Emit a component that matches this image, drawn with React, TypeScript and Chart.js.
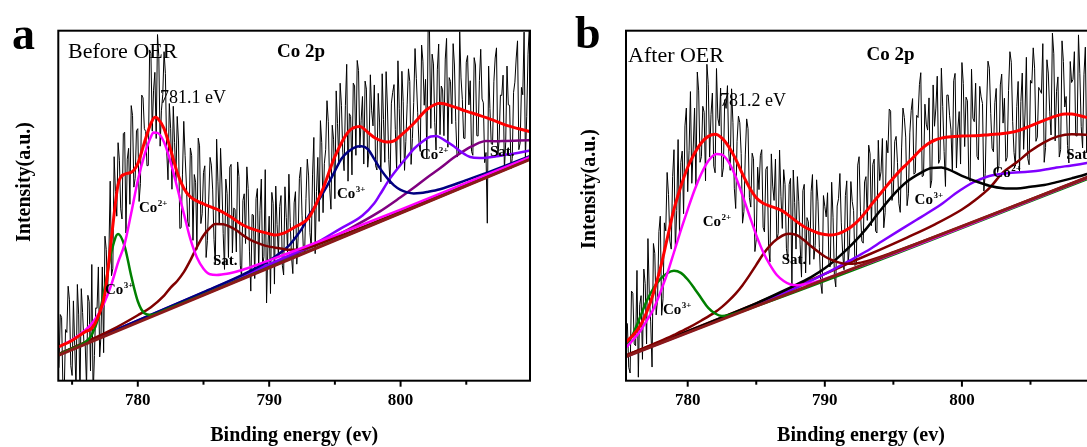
import React, { useEffect, useRef } from 'react';
import { Chart, registerables } from 'chart.js';

Chart.register(...registerables);

const SERIF = '"Liberation Serif", "Times New Roman", serif';

// ---------------- shared axis ----------------
const tickValues = [775, 780, 785, 790, 795, 800, 805];
const majorTicks = [780, 790, 800];
const rawStep = 0.2;

// ---------------- Panel a : Before OER ----------------
// raw spectrum, two interleaved sample sets (start, start + 0.1 eV)
const rawAStart = 774.0;
const rawA = [
  3.7, 18.1, -3.6, 13.8, 23.1, 1.5, 10, 27.5, -5, 19.5,
  10, 24.4, 2.8, -4.5, 20.8, 32.5, 13, 8, 37.5, 36,
  30, 64, 47, 63, 46.2, 71, 63.3, 50.4, 75.8, 57.8,
  72, 56.3, 80.8, 71.2, 61.5, 93.5, 83, 69.2, 92.6, 77.3,
  94, 65.6, 79.2, 54.7, 68, 75.5, 43.5, 58.8, 64.4, 45.4,
  66.5, 40.1, 56.7, 69.3, 44.9, 59.5, 35.2, 51.9, 61.6, 40.3,
  69, 44.6, 56.2, 31.8, 53.4, 61, 36.5, 49, 62.5, 33,
  51.5, 39.2, 54.9, 25.6, 47.3, 52, 31.8, 57.6, 35.4, 22.2,
  47, 53.8, 27.6, 44.6, 49.8, 33, 55.4, 36.8, 45.2, 30.6,
  54, 40.5, 61, 37.5, 52, 58.5, 38, 69.5, 54, 45.5,
  68, 62, 80, 55, 73, 52, 73.5, 85, 65.3, 78.7,
  57, 75.5, 85, 64.4, 88.6, 74.4, 61.9, 83.3, 65.7, 77.1,
  84.5, 60.2, 73.9, 87.7, 62.4, 78.2, 56.2, 82.4, 71.8, 91.4,
  62, 79.7, 68.4, 89.1, 61.8, 79.5, 86.3, 68.1, 95.9, 78.7,
  63.5, 99.9, 93.3, 73.7, 89, 70.3, 83.1, 91.9, 66.7, 85.5,
  96.3, 74, 64.8, 86.5, 69.3, 91, 78.8, 65.5, 92.3, 70,
  85.8, 80.5, 62.3, 45, 77.8, 67.5, 92.2, 63.9, 81.6, 87.3,
  68, 78.8, 60.6, 82.4, 92.2, 66, 83.8, 99.6, 75.4, 101.2,
];
const rawA2 = [
  18.9, -1.7, 14.6, 27, 4.3, 22.8, -2.7, 18.8, 26.3, 10.8,
  -1.8, 22.6, 33.2, 7.2, 20.7, 6.8, 32.5, 41.3, 25.3, 57,
  32, 54, 68, 49.1, 70.6, 42.2, 66.4, 78.6, 55.3, 71.4,
  51.2, 81.6, 72, 61.4, 94.5, 71.3, 88.1, 98.9, 67, 81.7,
  87.8, 57.4, 72, 78.4, 56.8, 68.5, 43.7, 74.1, 55.9, 44,
  64.3, 58.9, 37.5, 67.1, 47.7, 61.4, 40.1, 63.8, 54.5, 33.2,
  56.8, 66.4, 42, 57.6, 35.2, 61.8, 49.3, 36.8, 58.3, 29.8,
  53.4, 61.1, 36.8, 47.5, 29.2, 54.9, 48.7, 32.5, 60.3, 38.1,
  24.9, 50.7, 55.6, 35.7, 52.9, 30.2, 46.6, 59, 35.4, 50.8,
  33.3, 57.8, 47.3, 36.8, 63.3, 42.3, 58.8, 36.3, 63.8, 74.3,
  48, 66, 74, 49, 69, 82.8, 62.3, 78.7, 60, 90.4,
  76.3, 58.8, 84.2, 91.5, 66.5, 81.2, 85.6, 61, 87.4, 72.8,
  61.4, 82.1, 56.8, 74.6, 88.3, 63.2, 79.3, 84.6, 60.1, 77.7,
  88.4, 60.1, 78.8, 85.5, 69.2, 94.9, 76.7, 65.5, 91.3, 86.1,
  101.7, 72.1, 90.5, 65.9, 96.2, 84.2, 70, 97.8, 86.6, 73.4,
  90.2, 63.9, 99.7, 80.4, 69.2, 92.9, 85.7, 64.4, 90.2, 69.9,
  94.7, 79.4, 65.2, 89.9, 67.7, 85.4, 95.1, 68.8, 81.5, 60.2,
  89.9, 78.7, 63.5, 85.3, 97.1, 67.9, 81.7, 63.5, 93.3, 85.1,
];

const redAE = [774, 775, 776, 776.5, 777, 777.5, 778, 778.5, 779, 779.5, 780, 780.5, 781, 781.3, 781.5, 782, 782.5, 783, 783.5, 784, 785, 786, 787, 788, 789, 790, 790.5, 791, 792, 793, 794, 795, 796, 796.9, 797.5, 798, 799, 799.5, 800, 801, 802, 803, 804, 805, 806, 807, 808, 809, 810];
const redAY = [9.7, 11.5, 14, 15, 18.5, 25, 41, 56, 59, 59.5, 62, 68, 73.5, 75.3, 75, 72, 66, 59.5, 55, 52.5, 50.5, 49, 47, 44.5, 43, 42, 41.6, 42, 44, 46.5, 54, 64, 71, 72.6, 71, 69.5, 68.2, 68.5, 70, 73.5, 77.5, 79.3, 78.3, 77, 75.8, 74.5, 73, 72, 71];

const greenAE = [774, 775, 776, 776.5, 777, 777.5, 778, 778.5, 779, 779.5, 780, 780.5, 781, 782, 790, 810];
const greenAY = [7.5, 9.2, 11.0, 13.1, 18.0, 26.8, 36.9, 41.9, 38.4, 29.9, 22.7, 19.3, 18.8, 20.1, 32.4, 63.5];

const magentaAE = [774, 775, 776, 776.5, 777, 777.5, 778, 778.5, 779, 779.5, 780, 780.5, 781, 781.2, 781.5, 782, 782.5, 783, 783.5, 784, 784.5, 785, 785.5, 786, 786.5, 787, 788, 789, 790, 792, 795, 800, 805, 810];
const magentaAY = [9.7, 11.7, 14.4, 16.3, 19.0, 22.7, 27.6, 33.8, 39.1, 47.9, 57.2, 64.4, 69.7, 70.9, 70.8, 68.1, 62.4, 55.2, 47.8, 40.5, 35.2, 32.0, 30.4, 30.2, 30.4, 30.7, 31.7, 33.0, 34.4, 37.2, 41.5, 48.9, 56.5, 64.1];

const satAE = [774, 778, 780, 781, 782, 782.5, 783, 783.5, 784, 784.5, 785, 785.5, 785.9, 786.5, 787, 787.5, 788, 788.5, 789, 789.5, 790, 790.5, 791, 791.5, 792, 793, 795, 800, 810];
const satAY = [7.6, 14.5, 18.7, 21.0, 24.3, 26.6, 28.5, 31.0, 34.4, 38.2, 41.5, 43.7, 44.8, 44.7, 44.0, 43.0, 41.6, 40.4, 39.5, 38.8, 38.3, 38.0, 37.7, 37.4, 37.4, 38.1, 40.8, 48.3, 63.7];

const navyAE = [774, 785, 788, 790, 790.8, 791.5, 792, 792.5, 793, 793.5, 794, 794.5, 795, 795.5, 796, 796.7, 797, 797.5, 798, 798.5, 799, 799.5, 800, 800.5, 801, 801.5, 802, 803, 805, 807, 810];
const navyAY = [7.6, 25.3, 30.3, 34.3, 36.4, 38.6, 40.9, 43.5, 47.1, 49.9, 53.0, 56.3, 59.9, 63.4, 65.4, 66.9, 67.0, 66.2, 63.3, 60.3, 57.8, 55.8, 54.5, 53.8, 53.5, 53.6, 53.9, 54.7, 57.3, 60.0, 64.4];

const violetAE = [774, 785, 790, 792, 793.3, 795.4, 797.1, 798, 798.4, 799.2, 800, 800.4, 801, 801.7, 802.3, 802.7, 803.3, 804, 804.6, 805.3, 806, 806.5, 807.3, 808.1, 809, 810];
const violetAY = [7.6, 25.2, 33.3, 36.6, 38.8, 43.4, 47.2, 50.7, 53.0, 57.8, 61.7, 63.5, 66.2, 68.4, 69.8, 69.9, 68.8, 67.1, 65.4, 63.9, 63.6, 63.7, 64.1, 64.6, 65.1, 65.9];

const purpleAE = [774, 790, 794, 796, 798.4, 800, 801, 802, 803, 804, 805, 805.5, 806, 806.5, 807.3, 808, 809, 810];
const purpleAY = [7.6, 32.9, 39.5, 43.2, 48.3, 52.4, 55.1, 58.0, 60.7, 63.6, 66.1, 67.1, 68.0, 68.5, 68.4, 68.5, 68.6, 68.7];

const baseAE = [774, 810];
const baseAY = [7.3, 63.5];

// ---------------- Panel b : After OER ----------------
const rawBStart = 775.6;
const rawB = [
  16.4, 2.2, 25, 10, 1, 24.3, 31.9, 10.5, 24.7, 3.9,
  36.4, 23.2, 47, 23.4, 42.8, 53.2, 37.6, 66, 48.6, 42.2,
  65.6, 72.8, 54, 82.6, 66.2, 55.6, 82.8, 64, 76.7, 90.4,
  63.9, 82.2, 59.4, 75, 83.6, 60.8, 77.8, 64.8, 83.4, 55,
  68.4, 73.7, 45, 64.5, 72, 49.6, 63.4, 40.3, 54.6, 66,
  42.5, 61.2, 33.9, 55.6, 63.3, 42, 52.7, 60.3, 37.7, 56.1,
  26.5, 50.9, 58.3, 38.8, 54.3, 30.8, 45.4, 54, 34.7, 57.4,
  38.1, 24.9, 49.8, 53.7, 32.6, 46.7, 26.8, 52, 45.3, 31.7,
  57.1, 38.6, 51.2, 32.9, 61.6, 48.4, 39.3, 58.3, 67.3, 44.3,
  63.3, 42.2, 57.2, 69.2, 48.1, 65.1, 77, 53.9, 69.8, 50.7,
  66.5, 75.2, 50, 70.8, 80.6, 59.4, 75.2, 88, 58.6, 73.3,
  80.8, 57.3, 72.7, 87, 63.2, 78.4, 55.5, 81.6, 71.7, 85.7,
  60.8, 76.9, 90.9, 66.9, 80, 57, 75, 85, 63.1, 81.1,
  54.2, 78.2, 89.3, 66.4, 79.4, 59.5, 84.5, 73.6, 62.7, 82.9,
  91, 65.2, 78.3, 59.6, 87.9, 76.2, 63.5, 85.8, 95.1, 68.4,
  83.8, 82.1, 62.4, 91.7, 77, 99.3, 68.5, 86.8, 66, 91.2,
  81.2, 62.2, 85.2, 94, 69.9, 87.7, 66.5, 95.3, 78.1, 63.9,
  88.8, 80.6, 66.5,
];
const rawB2 = [
  3.8, 25.6, 10.5, 31.5, 21.7, 6.1, 27.7, 40.6, 16.8, 39.2,
  18.8, 42.6, 18.7, 45.1, 59.5, 39.9, 58.3, 37.3, 68.9, 62.4,
  47.7, 77.9, 65.8, 56.4, 77.9, 88.2, 62.4, 78.4, 57.1, 84.7,
  76.1, 61.3, 89.2, 72.8, 58.2, 80.3, 84.3, 60.1, 73.7, 49.2,
  75.6, 64.9, 48.3, 74.8, 52.3, 65, 36.9, 61, 64.3, 43.8,
  60.4, 38.1, 64.8, 51.5, 40.2, 65.9, 43.5, 56, 34.4, 57.8,
  60.2, 37.6, 51.1, 29.6, 56.1, 46.6, 33.2, 58.9, 38.6, 51.3,
  28, 52.9, 46.8, 32.7, 56.7, 29.8, 49.9, 59.2, 36.5, 52.9,
  33.4, 56.9, 48.6, 33.3, 64, 39.9, 56.8, 45.8, 64.8, 61.8,
  42.8, 68.7, 59.7, 43.7, 68.6, 77.6, 51.5, 68.4, 62.3, 48.1,
  77.9, 69.6, 53.4, 77.2, 59, 75.8, 84.6, 58.3, 79, 71.6,
  55.1, 84.5, 77.9, 62.1, 89.3, 65.5, 81.6, 75.7, 59.7, 87.8,
  71.9, 61.9, 84.9, 81, 58, 89, 74, 64.1, 84.1, 79.2,
  59.2, 91.3, 76.4, 65.4, 83.5, 61.5, 87.6, 80.7, 63.8, 94,
  74.1, 61.3, 85.5, 79.8, 66.1, 92.4, 61.7, 85, 89.3, 69.6,
  83, 96.3, 66.6, 87.9, 70.2, 93.4, 82.7, 63.9, 97.1, 78.2,
  67.2, 91.2, 86.1, 70, 98.8, 72.6, 87.4, 65.2, 92, 79.9,
  67.7, 93.6, 82.4,
];

const redBE = [775.5, 776, 776.5, 777, 777.5, 778, 778.5, 779, 779.5, 780, 780.5, 781, 781.5, 782, 782.5, 783, 783.5, 784, 784.5, 785, 785.5, 786, 786.5, 787, 787.5, 788, 788.5, 789, 789.5, 790, 790.5, 791, 791.5, 792, 792.5, 793, 793.5, 794, 794.5, 795, 795.5, 796, 796.5, 797, 797.5, 798, 798.5, 799, 800, 801, 802, 803, 804, 805, 806, 807, 807.5, 808, 808.5, 809, 810];
const redBY = [11, 13, 15.5, 19.5, 25, 32, 40.5, 49, 55.5, 61, 65, 68, 69.8, 70.4, 69.3, 66.8, 63.3, 59, 55.2, 52.3, 50.7, 49.9, 49.2, 48.3, 46.8, 45.3, 44, 43, 42.2, 41.8, 41.6, 42, 42.9, 44.2, 46, 48.3, 50.8, 53.2, 55.6, 57.9, 60.1, 62, 64, 66, 67.6, 68.7, 69.3, 69.6, 69.9, 70, 70.3, 70.6, 71.3, 72.8, 74.4, 75.8, 76.2, 76.2, 75.8, 75.3, 74.5];

const greenBE = [775.5, 776, 776.5, 777, 777.5, 778, 778.5, 779, 779.5, 780, 780.5, 781, 781.5, 782, 782.5, 783, 785, 810];
const greenBY = [9.9, 13.2, 17.9, 22.7, 26.4, 29.0, 30.7, 31.4, 30.8, 28.9, 26.3, 23.5, 20.8, 19.2, 18.5, 18.7, 21.3, 58.9];

const magentaBE = [775.5, 776, 776.5, 777, 777.5, 778, 778.5, 779, 779.5, 780, 780.5, 781, 781.5, 782.1, 782.5, 783, 783.5, 784, 784.5, 785, 785.5, 786, 786.5, 787, 787.5, 788, 789, 790, 810];
const magentaBY = [9.5, 11.6, 14.0, 17.1, 20.4, 25.2, 30.5, 36.7, 43, 48.9, 54.5, 59.2, 62.8, 64.8, 64.6, 62.4, 58.3, 52.9, 47.2, 41.6, 36.8, 33.1, 30.2, 28.5, 27.5, 27.3, 27.9, 29.1, 59.2];

const sat1BE = [775.5, 778, 779, 780, 781, 782, 782.5, 783, 783.5, 784, 784.5, 785, 785.5, 786, 786.5, 787.2, 787.5, 788, 788.5, 789, 789.5, 790, 790.5, 791, 791.5, 792, 793, 795, 810];
const sat1BY = [7.2, 11.3, 13.1, 15.0, 17.2, 19.6, 21.1, 22.9, 24.9, 27.3, 30.1, 33.1, 36.1, 38.6, 40.4, 41.9, 42.0, 41.5, 40.1, 38.4, 36.9, 35.5, 34.5, 33.8, 33.4, 33.4, 34.1, 36.7, 59.5];

const blackBE = [775.5, 780, 785, 787, 788, 789, 790, 791, 792, 793, 794, 795, 796, 797, 797.8, 798.5, 799, 800, 801, 802, 803, 804, 805, 806, 807, 808, 809, 810];
const blackBY = [7.1, 14.1, 22.1, 25.7, 27.6, 29.6, 32.1, 35.3, 39.0, 43.3, 48.4, 53.1, 56.9, 59.4, 60.8, 60.9, 60.4, 58.5, 57.0, 55.7, 55.0, 54.9, 55.4, 55.9, 56.8, 57.8, 58.9, 60.3];

const violetBE = [775.5, 785, 788, 790, 791.8, 793, 794.2, 795.5, 796.7, 797.5, 798.6, 799.5, 800.3, 801, 801.5, 802, 802.7, 803.3, 803.9, 804.6, 805.4, 806.2, 806.9, 808, 809.1, 810];
const violetBY = [6.9, 21.6, 26.7, 30.5, 34.3, 36.9, 39.9, 43.1, 46.0, 47.9, 50.7, 53.4, 55.5, 57.0, 57.8, 58.5, 59.0, 59.3, 59.5, 59.6, 59.9, 60.4, 60.9, 61.5, 62.2, 62.9];

const sat2BE = [775.5, 785, 790, 792, 794, 796, 798, 800, 801, 802, 803, 804, 805, 806, 807, 808, 809, 810];
const sat2BY = [7.2, 22.1, 30.5, 34.0, 37.4, 40.9, 44.6, 48.9, 51.7, 55.0, 59.5, 62.4, 65.6, 68.1, 69.8, 70.4, 70.3, 70.2];

const baseBE = [775.5, 810];
const baseBY = [6.9, 59.3];

// ---------------- annotation labels (data coordinates) ----------------
const labelsA = [
  { text: 'Co', sup: '2+', e: 780.09, v: 48.2 },
  { text: 'Co', sup: '3+', e: 777.5, v: 24.8 },
  { text: 'Sat.', sup: '', e: 785.72, v: 33.1 },
  { text: 'Co', sup: '3+', e: 795.16, v: 52.2 },
  { text: 'Co', sup: '2+', e: 801.47, v: 63.3 },
  { text: 'Sat.', sup: '', e: 806.8, v: 64.2 },
];
const labelsB = [
  { text: 'Co', sup: '2+', e: 781.1, v: 44.2 },
  { text: 'Sat.', sup: '', e: 786.86, v: 33.3 },
  { text: 'Co', sup: '3+', e: 778.2, v: 19.1 },
  { text: 'Co', sup: '3+', e: 796.55, v: 50.5 },
  { text: 'Co', sup: '2+', e: 802.23, v: 58.2 },
  { text: 'Sat.', sup: '', e: 807.6, v: 63.3 },
];

const pts = (xs: number[], ys: number[]) => xs.map((x, i) => ({ x, y: ys[i] }));
const rawPts = (start: number, ys: number[]) =>
  ys.map((y, i) => ({ x: Math.round((start + i * rawStep) * 100) / 100, y }));
const mergeRaw = (start: number, a: number[], b: number[]) =>
  [...rawPts(start, a), ...rawPts(start + rawStep / 2, b)].sort((p, q) => p.x - q.x);

function curve(xs: number[], ys: number[], color: string, width: number, order: number) {
  return {
    data: pts(xs, ys),
    borderColor: color,
    borderWidth: width,
    pointRadius: 0,
    fill: false,
    cubicInterpolationMode: 'monotone',
    order,
    clip: 0,
  };
}

function rawSet(data: { x: number; y: number }[]) {
  return {
    data,
    borderColor: '#000000',
    borderWidth: 1,
    pointRadius: 0,
    fill: false,
    tension: 0,
    order: 20,
    clip: 0,
  };
}

const panelA = {
  key: 'a',
  left: 0,
  width: 545,
  xMin: 773.95,
  xMax: 809.85,
  padding: { left: 58.3, top: 30.7, right: 15, bottom: 66.3 },
  letterX: 12,
  letterY: 49,
  yTitleX: 25,
  yTitleY: 182,
  stateText: 'Before OER',
  stateE: 774.69,
  stateV: 92.2,
  coreE: 792.42,
  coreV: 92.5,
  peakText: '781.1 eV',
  peakE: 781.69,
  peakV: 79.3,
  labels: labelsA,
  datasets: [
    rawSet(mergeRaw(rawAStart, rawA, rawA2)),
    curve(redAE, redAY, '#ff0000', 3, 0),
    curve(baseAE, baseAY, '#8b1a1a', 3, 1),
    curve(magentaAE, magentaAY, '#ff00ff', 2.5, 2),
    curve(greenAE, greenAY, '#008000', 2.5, 3),
    curve(satAE, satAY, '#800000', 2.5, 4),
    curve(navyAE, navyAY, '#000080', 2.5, 5),
    curve(violetAE, violetAY, '#8000ff', 2.5, 6),
    curve(purpleAE, purpleAY, '#800080', 2.5, 7),
  ],
};

const panelB = {
  key: 'b',
  left: 545,
  width: 560,
  xMin: 775.5,
  xMax: 810.07,
  padding: { left: 81, top: 30.7, right: 5, bottom: 66.3 },
  letterX: 30,
  letterY: 48,
  yTitleX: 45,
  yTitleY: 189,
  stateText: 'After OER',
  stateE: 775.65,
  stateV: 91.2,
  coreE: 794.8,
  coreV: 91.6,
  peakText: '781.2 eV',
  peakE: 782.35,
  peakV: 78.5,
  labels: labelsB,
  datasets: [
    rawSet(mergeRaw(rawBStart, rawB, rawB2)),
    curve(redBE, redBY, '#ff0000', 3, 0),
    curve(baseBE, baseBY, '#8b1a1a', 3, 1),
    curve(magentaBE, magentaBY, '#ff00ff', 2.5, 2),
    curve(greenBE, greenBY, '#008000', 2.5, 3),
    curve(sat1BE, sat1BY, '#800000', 2.5, 4),
    curve(blackBE, blackBY, '#000000', 2.5, 5),
    curve(violetBE, violetBY, '#8000ff', 2.5, 6),
    curve(sat2BE, sat2BY, '#800000', 2.5, 7),
  ],
};

function makeOverlay(cfg: any) {
  return {
    id: 'overlay_' + cfg.key,
    afterDatasetsDraw(chart: any) {
      const { ctx, chartArea: a, scales } = chart;
      const sx = scales.x;
      const sy = scales.y;
      ctx.save();
      ctx.fillStyle = '#000';
      ctx.strokeStyle = '#000';

      // frame
      ctx.lineWidth = 2;
      ctx.strokeRect(a.left, a.top, a.right - a.left, a.bottom - a.top);

      // ticks + tick labels
      ctx.textAlign = 'center';
      ctx.textBaseline = 'alphabetic';
      for (const v of tickValues) {
        if (v < sx.min || v > sx.max) continue;
        const px = sx.getPixelForValue(v);
        const major = majorTicks.includes(v);
        ctx.beginPath();
        ctx.moveTo(px, a.bottom);
        ctx.lineTo(px, a.bottom + (major ? 6 : 4));
        ctx.stroke();
        if (major) {
          ctx.font = `bold 17px ${SERIF}`;
          ctx.fillText(String(v), px, 405);
        }
      }

      // x title
      ctx.font = `bold 20px ${SERIF}`;
      ctx.fillText('Binding energy (ev)', (a.left + a.right) / 2 - (cfg.key === 'b' ? 2 : 0), 441);

      // y title
      ctx.save();
      ctx.translate(cfg.yTitleX, cfg.yTitleY);
      ctx.rotate(-Math.PI / 2);
      ctx.textBaseline = 'middle';
      ctx.font = `bold 20px ${SERIF}`;
      ctx.fillText('Intensity(a.u.)', 0, 0);
      ctx.restore();

      // panel letter
      ctx.textAlign = 'left';
      ctx.textBaseline = 'alphabetic';
      ctx.font = `bold 46px ${SERIF}`;
      ctx.fillText(cfg.key, cfg.letterX, cfg.letterY);

      // sample state
      ctx.font = `22px ${SERIF}`;
      ctx.fillText(cfg.stateText, sx.getPixelForValue(cfg.stateE), sy.getPixelForValue(cfg.stateV));

      // core level
      ctx.textAlign = 'center';
      ctx.font = `bold 19px ${SERIF}`;
      ctx.fillText('Co 2p', sx.getPixelForValue(cfg.coreE), sy.getPixelForValue(cfg.coreV));

      // peak position
      ctx.textAlign = 'left';
      ctx.font = `18px ${SERIF}`;
      ctx.fillText(cfg.peakText, sx.getPixelForValue(cfg.peakE), sy.getPixelForValue(cfg.peakV));

      // component labels
      for (const l of cfg.labels) {
        const px = sx.getPixelForValue(l.e);
        const py = sy.getPixelForValue(l.v);
        ctx.font = `bold 15px ${SERIF}`;
        ctx.fillText(l.text, px, py);
        if (l.sup) {
          const w = ctx.measureText(l.text).width;
          ctx.font = `bold 9px ${SERIF}`;
          ctx.fillText(l.sup, px + w + 0.5, py - 6);
        }
      }
      ctx.restore();
    },
  };
}

function Panel({ cfg }: { cfg: any }) {
  const ref = useRef<HTMLCanvasElement | null>(null);
  useEffect(() => {
    if (!ref.current) return;
    const chart = new Chart(ref.current, {
      type: 'line',
      data: { datasets: cfg.datasets },
      options: {
        animation: false,
        responsive: false,
        maintainAspectRatio: false,
        devicePixelRatio: 1,
        layout: { padding: cfg.padding },
        plugins: { legend: { display: false }, tooltip: { enabled: false } },
        scales: {
          x: { type: 'linear', min: cfg.xMin, max: cfg.xMax, display: false },
          y: { type: 'linear', min: 0, max: 100, display: false },
        },
      },
      plugins: [makeOverlay(cfg)],
    } as any);
    return () => chart.destroy();
  }, [cfg]);
  return (
    <canvas
      ref={ref}
      width={cfg.width}
      height={447}
      style={{ position: 'absolute', left: cfg.left, top: 0, width: cfg.width, height: 447 }}
    />
  );
}

export default function App() {
  return (
    <div
      style={{
        position: 'fixed',
        left: 0,
        top: 0,
        width: 1087,
        height: 447,
        overflow: 'hidden',
        background: '#ffffff',
      }}
    >
      <Panel cfg={panelA} />
      <Panel cfg={panelB} />
    </div>
  );
}
